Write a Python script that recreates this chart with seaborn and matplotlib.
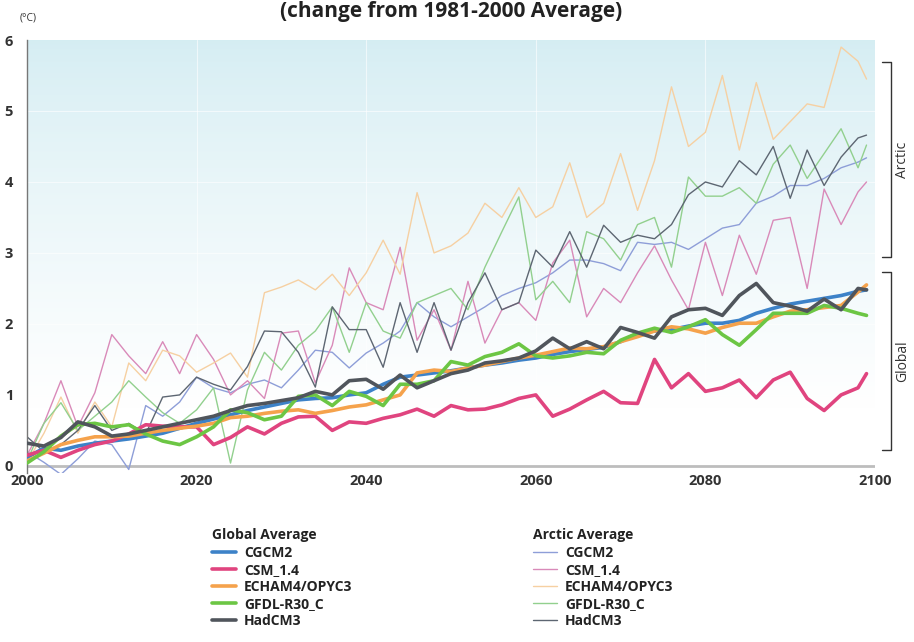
import numpy as np
import pandas as pd
import matplotlib
matplotlib.use("Agg")
import matplotlib.pyplot as plt
import matplotlib.transforms as mtransforms
from matplotlib.lines import Line2D
import seaborn as sns

# ---------------- data ----------------
YEARS = list(range(2000, 2100, 2)) + [2099]
MODELS = ["CGCM2", "CSM_1.4", "ECHAM4/OPYC3", "GFDL-R30_C", "HadCM3"]

global_cgcm2 = [0.12, 0.25, 0.22, 0.28, 0.32, 0.35, 0.38, 0.42, 0.46, 0.53,
                0.60, 0.66, 0.72, 0.78, 0.83, 0.88, 0.93, 0.95, 0.96, 1.00,
                1.03, 1.15, 1.25, 1.28, 1.31, 1.34, 1.38, 1.42, 1.45, 1.49,
                1.52, 1.57, 1.61, 1.64, 1.67, 1.75, 1.87, 1.90, 1.92, 1.97,
                2.01, 2.01, 2.05, 2.15, 2.22, 2.28, 2.32, 2.36, 2.40, 2.46, 2.48]
global_csm = [0.15, 0.22, 0.12, 0.22, 0.30, 0.35, 0.45, 0.58, 0.56, 0.55,
              0.55, 0.30, 0.40, 0.55, 0.45, 0.60, 0.69, 0.70, 0.50, 0.62,
              0.60, 0.67, 0.72, 0.80, 0.70, 0.85, 0.79, 0.80, 0.86, 0.95,
              1.00, 0.70, 0.80, 0.93, 1.05, 0.89, 0.88, 1.50, 1.10, 1.30,
              1.05, 1.10, 1.21, 0.96, 1.21, 1.32, 0.95, 0.78, 1.00, 1.10, 1.30]
global_echam = [0.07, 0.18, 0.30, 0.36, 0.41, 0.41, 0.42, 0.46, 0.50, 0.53,
                0.56, 0.60, 0.68, 0.70, 0.74, 0.77, 0.79, 0.74, 0.78, 0.83,
                0.86, 0.93, 1.00, 1.31, 1.35, 1.33, 1.38, 1.42, 1.47, 1.52,
                1.56, 1.61, 1.66, 1.65, 1.68, 1.75, 1.82, 1.90, 1.96, 1.93,
                1.87, 1.95, 2.01, 2.01, 2.10, 2.18, 2.20, 2.23, 2.26, 2.45, 2.55]
global_gfdl = [0.04, 0.20, 0.42, 0.58, 0.60, 0.55, 0.58, 0.45, 0.35, 0.30,
               0.41, 0.55, 0.79, 0.75, 0.65, 0.70, 0.98, 1.00, 0.85, 1.05,
               0.98, 0.85, 1.15, 1.15, 1.20, 1.47, 1.42, 1.54, 1.60, 1.72,
               1.55, 1.52, 1.55, 1.60, 1.58, 1.77, 1.87, 1.94, 1.88, 1.96,
               2.06, 1.85, 1.70, 1.92, 2.15, 2.15, 2.15, 2.26, 2.22, 2.15, 2.12]
global_hadcm3 = [0.32, 0.28, 0.40, 0.62, 0.55, 0.42, 0.45, 0.50, 0.55, 0.60,
                 0.65, 0.70, 0.78, 0.85, 0.88, 0.92, 0.96, 1.05, 1.00, 1.20,
                 1.22, 1.08, 1.28, 1.10, 1.20, 1.30, 1.35, 1.45, 1.48, 1.52,
                 1.62, 1.80, 1.65, 1.75, 1.65, 1.95, 1.88, 1.80, 2.10, 2.20,
                 2.22, 2.12, 2.40, 2.57, 2.30, 2.25, 2.18, 2.35, 2.20, 2.50, 2.48]

arctic_cgcm2 = [0.20, 0.05, -0.12, 0.10, 0.35, 0.30, -0.05, 0.85, 0.70, 0.90,
                1.25, 1.10, 1.03, 1.15, 1.21, 1.10, 1.35, 1.63, 1.60, 1.38,
                1.59, 1.73, 1.90, 2.30, 2.10, 1.96, 2.10, 2.24, 2.40, 2.50,
                2.58, 2.72, 2.90, 2.90, 2.85, 2.75, 3.15, 3.12, 3.15, 3.05,
                3.20, 3.35, 3.40, 3.70, 3.80, 3.95, 3.95, 4.05, 4.20, 4.28, 4.34]
arctic_csm = [0.15, 0.60, 1.20, 0.55, 1.03, 1.85, 1.55, 1.30, 1.75, 1.30,
              1.85, 1.50, 1.00, 1.20, 0.95, 1.87, 1.90, 1.17, 1.70, 2.79,
              2.30, 2.20, 3.08, 1.77, 2.20, 1.63, 2.60, 1.73, 2.20, 2.30,
              2.05, 2.86, 3.18, 2.10, 2.50, 2.30, 2.72, 3.10, 2.62, 2.20,
              3.15, 2.40, 3.25, 2.70, 3.46, 3.50, 2.50, 3.90, 3.40, 3.86, 4.00]
arctic_echam = [0.05, 0.46, 0.97, 0.46, 0.90, 0.55, 1.45, 1.20, 1.63, 1.55,
                1.32, 1.45, 1.59, 1.25, 2.44, 2.52, 2.62, 2.48, 2.70, 2.40,
                2.72, 3.18, 2.70, 3.85, 3.00, 3.10, 3.28, 3.70, 3.50, 3.92,
                3.50, 3.65, 4.27, 3.50, 3.70, 4.40, 3.60, 4.30, 5.34, 4.50,
                4.70, 5.50, 4.45, 5.40, 4.60, 4.85, 5.10, 5.05, 5.90, 5.70, 5.45]
arctic_gfdl = [0.07, 0.60, 0.89, 0.50, 0.70, 0.90, 1.20, 0.97, 0.75, 0.60,
               0.79, 1.10, 0.04, 1.07, 1.60, 1.35, 1.70, 1.90, 2.24, 1.60,
               2.30, 1.90, 1.80, 2.30, 2.40, 2.50, 2.20, 2.80, 3.30, 3.79,
               2.34, 2.60, 2.30, 3.30, 3.20, 2.90, 3.40, 3.50, 2.80, 4.07,
               3.80, 3.80, 3.92, 3.70, 4.25, 4.52, 4.05, 4.40, 4.75, 4.20, 4.52]
arctic_hadcm3 = [0.41, 0.20, 0.30, 0.50, 0.85, 0.50, 0.60, 0.45, 0.97, 1.00,
                 1.25, 1.15, 1.07, 1.40, 1.90, 1.89, 1.60, 1.11, 2.24, 1.92,
                 1.92, 1.39, 2.30, 1.60, 2.30, 1.63, 2.30, 2.72, 2.20, 2.30,
                 3.04, 2.80, 3.30, 2.80, 3.39, 3.15, 3.25, 3.20, 3.40, 3.82,
                 4.00, 3.93, 4.30, 4.10, 4.50, 3.77, 4.45, 3.95, 4.35, 4.62, 4.66]

GLOBAL_SERIES = [global_cgcm2, global_csm, global_echam, global_gfdl, global_hadcm3]
ARCTIC_SERIES = [arctic_cgcm2, arctic_csm, arctic_echam, arctic_gfdl, arctic_hadcm3]

X_TICKS = [2000, 2020, 2040, 2060, 2080, 2100]
Y_TICKS = [0, 1, 2, 3, 4, 5, 6]

GLOBAL_COLORS = ["#3d82c8", "#e0447f", "#f5a24c", "#6cc644", "#50555c"]
ARCTIC_COLORS = ["#8e9ed8", "#d98ab9", "#f6d0a2", "#92d08e", "#5d6672"]


def long_frame(series_list):
    rows = []
    for model, vals in zip(MODELS, series_list):
        for yr, v in zip(YEARS, vals):
            rows.append({"year": yr, "value": v, "model": model})
    return pd.DataFrame(rows)


df_global = long_frame(GLOBAL_SERIES)
df_arctic = long_frame(ARCTIC_SERIES)

# ---------------- figure ----------------
sns.set_theme(style="white")
plt.rcParams["font.family"] = ["Open Sans", "DejaVu Sans"]

W, H = 914, 642
fig = plt.figure(figsize=(W / 100, H / 100), dpi=100)
ax = fig.add_axes([27 / W, 1 - 473 / H, (875 - 27) / W, (473 - 40) / H])

YMIN, YMAX = -0.1, 6

# background gradient (light cyan at top fading to white)
grad = np.linspace(0, 1, 256)
top = np.array([0.835, 0.93, 0.952])
white = np.array([1.0, 1.0, 1.0])
t = np.clip(grad / 0.85, 0, 1) ** 0.8
t = t[:, None]
img = (top * (1 - t) + white * t)[:, None, :]
ax.imshow(img, extent=[2000, 2100, YMIN, YMAX], origin="upper",
          aspect="auto", zorder=0, interpolation="bilinear")

# faint grid
for yv in Y_TICKS[1:-1]:
    ax.axhline(yv, color="white", lw=0.8, alpha=0.6, zorder=0.5)
for xv in X_TICKS[1:-1]:
    ax.axvline(xv, color="white", lw=0.8, alpha=0.6, zorder=0.5)

ax.axhline(0, color="#bdbdbd", lw=2.0, zorder=1)

sns.lineplot(data=df_arctic, x="year", y="value", hue="model",
             palette=ARCTIC_COLORS, hue_order=MODELS, linewidth=1.0,
             legend=False, ax=ax, zorder=2)
sns.lineplot(data=df_global, x="year", y="value", hue="model",
             palette=GLOBAL_COLORS, hue_order=MODELS, linewidth=2.6,
             legend=False, ax=ax, zorder=3)

ax.set_xlim(2000, 2100)
ax.set_ylim(YMIN, YMAX)
ax.set_xticks(X_TICKS)
ax.set_yticks(Y_TICKS)
ax.set_xlabel("")
ax.set_ylabel("")
ax.tick_params(axis="both", length=0, labelsize=10.5, colors="#333333")
ax.tick_params(axis="x", pad=1)
ax.tick_params(axis="y", pad=10)
for lab in ax.get_xticklabels() + ax.get_yticklabels():
    lab.set_fontweight("bold")
for side in ["top", "right", "bottom"]:
    ax.spines[side].set_visible(False)
ax.spines["left"].set_color("#777777")
ax.spines["left"].set_linewidth(1.0)
ax.grid(False)

# unit label and title
fig.text(20 / W, 1 - 18 / H, "(\u00b0C)", fontsize=7.5, color="#333333",
         ha="left", va="center")
fig.text(451 / W, 1 - 12 / H, "(change from 1981-2000 Average)", fontsize=15,
         fontweight="bold", color="#222222", ha="center", va="center")

# brackets on the right
trans = mtransforms.blended_transform_factory(ax.transAxes, ax.transData)
bx = (891 - 27) / 848
sx = (882 - 27) / 848
for (y0, y1, label) in [(2.94, 5.69, "Arctic"), (0.23, 2.73, "Global")]:
    ax.add_line(Line2D([sx, bx, bx, sx], [y1, y1, y0, y0], transform=trans,
                       color="#333333", lw=1.0, clip_on=False))
    ax.text((903 - 27) / 848, (y0 + y1) / 2, label, transform=trans,
            rotation=90, ha="center", va="center", fontsize=10,
            color="#333333", clip_on=False)

# legends
def make_handles(colors, lw):
    return [Line2D([0], [0], color=c, lw=lw) for c in colors]

LEG_LABELS = ["CGCM2", "CSM_1.4", "ECHAM4/OPYC3", "GFDL-R30_C", "HadCM3"]
common = dict(loc="upper left", frameon=False, fontsize=10,
              labelspacing=0.21, handlelength=1.75,
              handletextpad=0.55, borderpad=0.0, borderaxespad=0.0)
for (x0, title, colors, lw) in [(212, "Global Average", GLOBAL_COLORS, 2.6),
                                (533, "Arctic Average", ARCTIC_COLORS, 1.0)]:
    fig.text(x0 / W, 1 - 535 / H, title, fontsize=10, fontweight="bold",
             color="#222222", ha="left", va="center")
    leg = fig.legend(make_handles(colors, lw), LEG_LABELS,
                     bbox_to_anchor=(x0 / W, 1 - 546 / H), **common)
    for txt in leg.get_texts():
        txt.set_fontweight("bold")
        txt.set_color("#222222")

fig.savefig("out.png", dpi=100)
